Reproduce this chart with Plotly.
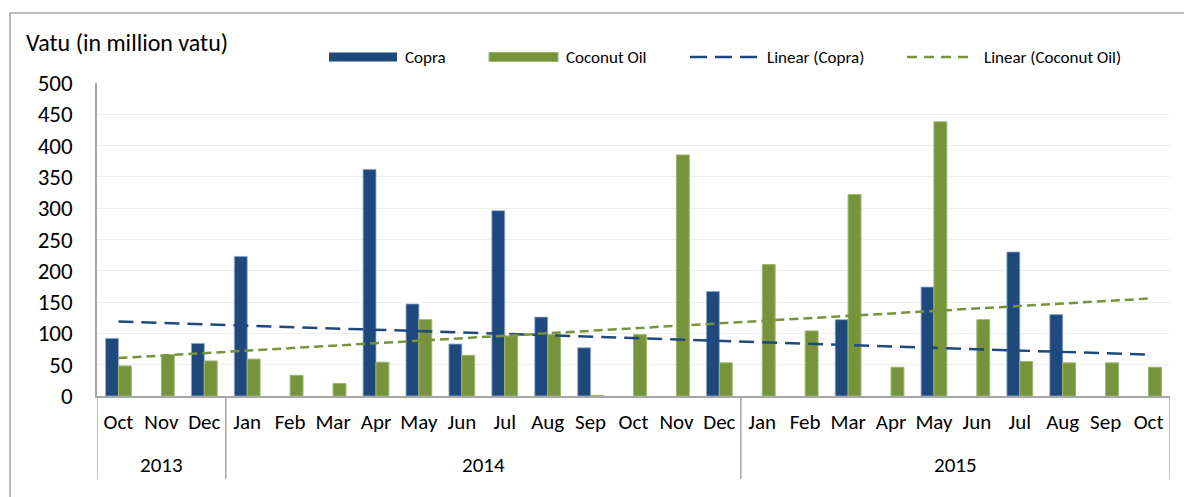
import numpy as np
import plotly.graph_objects as go

years = ["2013"] * 3 + ["2014"] * 12 + ["2015"] * 10
months = ["Oct", "Nov", "Dec",
          "Jan", "Feb", "Mar", "Apr", "May", "Jun", "Jul", "Aug", "Sep", "Oct", "Nov", "Dec",
          "Jan", "Feb", "Mar", "Apr", "May", "Jun", "Jul", "Aug", "Sep", "Oct"]
copra = [92, None, 84,
         223, None, None, 362, 147, 83, 296, 126, 77, None, None, 167,
         None, None, 122, None, 174, None, 230, 130, None, None]
coconut_oil = [48, 66, 56,
               59, 33, 20, 54, 122, 65, 96, 98, 1, 98, 385, 53,
               210, 104, 322, 46, 438, 122, 55, 53, 53, 46]

y_title = "Vatu (in million vatu)"
legend_labels = ["Copra", "Coconut Oil", "Linear (Copra)", "Linear (Coconut Oil)"]

BLUE = "#1F497D"
GREEN = "#77933C"
GRAY = "#A6A6A6"
FONT = "Carlito, Lato, sans-serif"

# unique category keys (month + year), shown with month tick text
cats = [f"{m} {y}" for m, y in zip(months, years)]

# Excel-style linear trendlines (blank cells count as zero)
idx = np.arange(1, len(months) + 1)
c_vals = np.array([v if v is not None else 0 for v in copra], dtype=float)
o_vals = np.array([v if v is not None else 0 for v in coconut_oil], dtype=float)
c_fit = np.polyval(np.polyfit(idx, c_vals, 1), idx)
o_fit = np.polyval(np.polyfit(idx, o_vals, 1), idx)

fig = go.Figure()
fig.add_trace(go.Bar(x=cats, y=copra, name=legend_labels[0],
                     marker=dict(color=BLUE, line=dict(width=0.8, color="#8FA8C8")), showlegend=False))
fig.add_trace(go.Bar(x=cats, y=coconut_oil, name=legend_labels[1],
                     marker=dict(color=GREEN, line=dict(width=1, color="#9CB86A")), showlegend=False))
fig.add_trace(go.Scatter(x=cats, y=c_fit, mode="lines", name=legend_labels[2],
                         line=dict(color=BLUE, width=2.5, dash="15px,8px"), showlegend=False))
fig.add_trace(go.Scatter(x=cats, y=o_fit, mode="lines", name=legend_labels[3],
                         line=dict(color=GREEN, width=2.5, dash="9px,5px"), showlegend=False))

W, H = 1184, 497
L, R, T, B = 97, 1170, 83, 396


def fx(px):
    return (px - L) / (R - L)


def fy(py):
    return (B - py) / (B - T)


shapes = [
    # chart border
    dict(type="rect", xref="paper", yref="paper", x0=fx(10), x1=fx(1300), y0=fy(13), y1=fy(600),
         line=dict(color=GRAY, width=1.5), fillcolor="rgba(0,0,0,0)", layer="below"),
    # legend swatches
    dict(type="rect", xref="paper", yref="paper", x0=fx(329), x1=fx(397), y0=fy(61.5), y1=fy(52.5),
         line=dict(width=0), fillcolor=BLUE),
    dict(type="rect", xref="paper", yref="paper", x0=fx(489), x1=fx(558), y0=fy(61.5), y1=fy(52.5),
         line=dict(width=1, color="#9CB86A"), fillcolor=GREEN),
    dict(type="line", xref="paper", yref="paper", x0=fx(690), x1=fx(759), y0=fy(57), y1=fy(57),
         line=dict(color=BLUE, width=2.5, dash="17px,8px")),
    dict(type="line", xref="paper", yref="paper", x0=fx(907), x1=fx(970), y0=fy(57), y1=fy(57),
         line=dict(color=GREEN, width=2.5, dash="10px,7px")),
]

# year group dividers and year labels
year_order = []
for y in years:
    if y not in year_order:
        year_order.append(y)
bounds = [-0.5]
annotations = []
for y in year_order:
    ids = [i for i, yy in enumerate(years) if yy == y]
    bounds.append(ids[-1] + 0.5)
    annotations.append(dict(text=y, xref="x", yref="paper", x=(ids[0] + ids[-1]) / 2, y=fy(465),
                            xanchor="center", yanchor="middle", showarrow=False,
                            font=dict(size=21, color="black", family=FONT)))
for b in bounds:
    shapes.append(dict(type="line", xref="x", yref="paper", x0=b, x1=b, y0=0, y1=fy(479),
                       line=dict(color=GRAY, width=1.5)))

annotations.append(dict(text=y_title, xref="paper", yref="paper", x=fx(24), y=fy(43), xanchor="left",
                        yanchor="middle", showarrow=False, font=dict(size=24, color="black", family=FONT)))
for label, px in zip(legend_labels, [403, 564, 765, 982]):
    annotations.append(dict(text=label, xref="paper", yref="paper", x=fx(px), y=fy(57),
                            xanchor="left", yanchor="middle", showarrow=False,
                            font=dict(size=17, color="black", family=FONT)))

fig.update_layout(
    width=W, height=H,
    margin=dict(l=L, r=W - R, t=T, b=H - B, pad=0),
    paper_bgcolor="white", plot_bgcolor="white",
    barmode="group", bargap=0.4, bargroupgap=0,
    font=dict(family=FONT, color="black"),
    shapes=shapes, annotations=annotations,
    showlegend=False,
)
fig.update_yaxes(range=[0, 500], dtick=50, showgrid=True, gridcolor="#EEEEEE", gridwidth=1,
                 showline=True, linecolor=GRAY, linewidth=1.5, zeroline=False,
                 ticks="outside", ticklen=18, tickcolor="rgba(0,0,0,0)",
                 tickfont=dict(size=23, color="black", family=FONT))
fig.update_xaxes(type="category", categoryorder="array", categoryarray=cats,
                 tickmode="array", tickvals=cats, ticktext=months,
                 range=[-0.5, len(cats) - 0.5],
                 showline=True, linecolor=GRAY, linewidth=1.5,
                 ticks="outside", ticklen=6, tickcolor="rgba(0,0,0,0)",
                 tickfont=dict(size=21, color="black", family=FONT), showgrid=False)

fig.write_html("out.html", config={"displayModeBar": False},
               post_script="document.body.style.margin='0px';")
